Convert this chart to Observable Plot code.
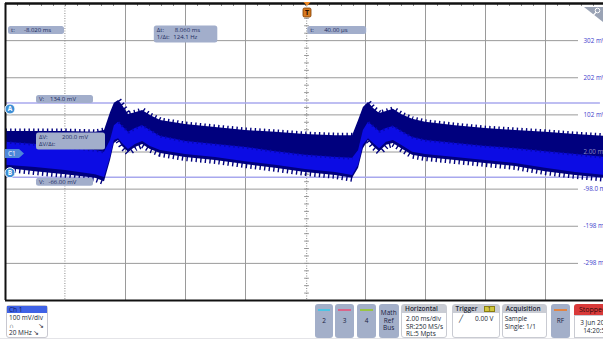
<!DOCTYPE html>
<html><head><meta charset="utf-8">
<script src="https://cdn.jsdelivr.net/npm/d3@7"></script>
<script src="https://cdn.jsdelivr.net/npm/@observablehq/plot@0.6"></script>
<style>
body{margin:0;background:#fff;font-family:"Open Sans","Noto Sans",sans-serif;}
#wrap{position:relative;width:603px;height:343px;overflow:hidden;background:#fff}
#chart{position:absolute;left:0;top:0}
#bar{position:absolute;left:0;top:303px;width:603px;height:40px;font-size:6.5px;color:#1a1f33}
#bar div{position:absolute;box-sizing:border-box}
.btn{top:1px;height:34px;background:#a3afc9;border-radius:3px;text-align:center;color:#1a2040}
.btn .ln{top:5px;left:3px;right:3px;height:1.5px}
.btn .lb{left:0;right:0;top:13px;line-height:7.5px}
.pan{top:1px;height:34px;border:1px solid #c9cbd2;border-radius:3px;background:#fff}
.pan .hd{left:0;right:0;top:0;height:8px;background:#c9ccd4;line-height:8px;padding-left:3px;font-weight:600}
.pan .bd{left:4px;right:2px;top:10px;line-height:7.5px}
</style></head>
<body><div id="wrap"><div id="chart"></div>
<div id="bar">
  <div style="left:6px;top:2px;width:42px;height:33px;border:1px solid #c8c8d0;border-radius:3px;background:#fff">
    <div style="left:0;right:0;top:0;height:7px;background:#3f62e6;line-height:7px;padding-left:2px;color:#0b1a6a">Ch 1</div>
    <div style="left:2px;right:3px;top:8px;line-height:7.5px">100 mV/div<br>∩<span style="float:right">↘</span><br>20 MHz ↘</div>
  </div>
  <div class="btn" style="left:315px;width:18px"><div class="ln" style="background:#4cc4e4"></div><div class="lb">2</div></div>
  <div class="btn" style="left:335px;width:19px"><div class="ln" style="background:#d9648a"></div><div class="lb">3</div></div>
  <div class="btn" style="left:357px;width:19px"><div class="ln" style="background:#98c444"></div><div class="lb">4</div></div>
  <div class="btn" style="left:379px;width:19.5px"><div class="lb" style="top:5px">Math<br>Ref<br>Bus</div></div>
  <div class="pan" style="left:401px;width:46px"><div class="hd">Horizontal</div><div class="bd">2.00 ms/div<br>SR:250 MS/s<br>RL:5 Mpts</div></div>
  <div class="pan" style="left:451.5px;width:48px"><div class="hd">Trigger</div>
    <div style="left:31px;top:1px;width:11.5px;height:6px;background:#d1c63c;border:1px solid #8a7e10;font-size:5.5px;line-height:4px;text-align:center">1</div>
    <div class="bd" style="left:6px;right:5px">╱<span style="float:right">0.00 V</span></div></div>
  <div class="pan" style="left:501.7px;width:45.6px"><div class="hd">Acquisition</div><div class="bd" style="left:2px">Sample<br>Single: 1/1</div></div>
  <div class="btn" style="left:550.7px;width:19.3px"><div class="ln" style="background:#e08444"></div><div class="lb">RF</div></div>
  <div style="left:574px;top:1px;width:44px;height:11px;background:#d93a3a;border-radius:3px 3px 0 0;line-height:11px;padding-left:5px;color:#2a0a0a;font-size:7px">Stopped</div>
  <div style="left:574px;top:12px;width:44px;height:23px;border:1px solid #c9cbd2;background:#fff;text-align:center;line-height:7.5px;padding-top:3px">3 Jun 2020<br>14:20:55</div>
  <div style="left:0;top:35px;width:603px;height:1px;background:#e4e4e8"></div>
</div>
</div>
<script>
// Waveform envelope (time in ms, voltage in mV)
const timeMs      = [-10,-9,-8,-7,-6.7,-6.5,-6.37,-6.23,-6.1,-5.9,-5.67,-5.43,-5.17,-4.83,-4,-3,-2,-1,0,1,1.57,1.77,1.93,2.1,2.27,2.47,2.7,2.93,3.2,3.57,4,5,6,7,8,9,10];
const upperMv     = [57,57,57,55,60,108,133,141,127,103,108,114,100,87,76,68,60,55,49,46,46,87,122,135,119,106,111,117,103,90,82,73,65,60,55,49,44];
const lowerMv     = [-42,-51,-59,-69,-78,-21,25,33,17,1,14,22,9,-2,-13,-21,-32,-42,-53,-61,-69,-42,11,33,17,3,20,25,11,-7,-13,-21,-29,-37,-51,-61,-69];
const coreUpperMv = [28,22,14,6,1,33,73,82,71,55,65,73,60,44,30,22,14,3,-7,-13,-15,6,60,82,71,57,65,71,57,41,33,25,17,11,3,-5,-13];
const coreLowerMv = [-34,-40,-48,-59,-67,-13,33,38,25,9,22,30,17,6,-5,-13,-24,-34,-45,-53,-61,-34,20,38,25,11,28,33,20,1,-5,-13,-21,-29,-42,-53,-61];
// the two fast rising edges (ms), where the ripple is not drawn
const edgeMs = [[-6.7, -6.23], [1.57, 2.1]];

// Graticule and labels
const gridMv = [302,202,102,2,-98,-198,-298];
const gridLabels = ["302 mV","202 mV","102 mV","2.00 mV","-98.0 mV","-198 mV","-298 mV"];
const gridMs = [-6,-4,-2,2,4,6,8];
const minorMs = d3.range(-10, 10.01, 0.4);
const minorMv = d3.range(-398, 402, 20);

// Cursors
const cursorT = [-8.02, 0.04];
const cursorV = [134, -66];
const cursorNames = ["A", "B"];
const readT1 = ["t:", "-8.020 ms"];
const readDT = [["Δt:", "8.060 ms"], ["1/Δt:", "124.1 Hz"]];
const readT2 = ["t:", "40.00 µs"];
const readVA = ["V:", "134.0 mV"];
const readDV = [["ΔV:", "200.0 mV"], ["ΔV/Δt:", ""]];
const readVB = ["V:", "-66.00 mV"];

const onEdge = t => edgeMs.some(([a, b]) => t > a && t < b);
const wave = timeMs.map((t, i) => ({t, hi: upperMv[i], lo: lowerMv[i], chi: coreUpperMv[i], clo: coreLowerMv[i]}));
const navy = "#00007e";
const gridIdx = d3.range(gridMv.length);
const teeth = {strokeDasharray: "1.4,3.2", strokeLinecap: "butt", strokeLinejoin: "miter", clip: true};

const chart = Plot.plot({
  width: 603, height: 303,
  marginLeft: 5, marginRight: 0, marginTop: 3, marginBottom: 3,
  style: {background: "transparent", fontFamily: "'Open Sans','Noto Sans',sans-serif", fontSize: "6.3px"},
  x: {domain: [-10, 10], range: [5, 605], axis: null},
  y: {domain: [-398, 402], axis: null},
  marks: [
    Plot.ruleY(gridMv, {x1: -10, x2: 9.1, stroke: "#9a9a9a", strokeWidth: 1}),
    Plot.ruleX(gridMs, {stroke: "#9a9a9a", strokeWidth: 1}),
    Plot.ruleX(minorMs, {y1: 402, y2: 394, stroke: "#888"}),
    Plot.ruleY(minorMv, {x1: -0.03, x2: 0.13, stroke: "#999"}),
    Plot.ruleX(cursorT, {stroke: "#8a8a8a", strokeDasharray: "1,1.5"}),
    Plot.ruleY(cursorV, {x1: -10, x2: 9.83, stroke: "#a8a8ee", strokeWidth: 1.5}),
    Plot.areaY(wave, {x: "t", y1: "lo", y2: "hi", fill: navy, clip: true}),
    Plot.line(wave, {x: "t", y: d => onEdge(d.t) ? NaN : d.hi, stroke: navy, strokeWidth: 6, ...teeth}),
    Plot.line(wave, {x: "t", y: d => onEdge(d.t) ? NaN : d.lo, stroke: navy, strokeWidth: 7, ...teeth}),
    Plot.areaY(wave, {x: "t", y1: "clo", y2: "chi", fill: "#0c0ce4", clip: true}),
    Plot.line(wave, {x: "t", y: d => onEdge(d.t) ? NaN : d.chi, stroke: "#0606b0", strokeWidth: 2.5, ...teeth}),
    Plot.ruleY([402], {stroke: "#111", strokeWidth: 2.5}),
    Plot.ruleY([-398], {stroke: "#111", strokeWidth: 2}),
    Plot.ruleX([-10], {stroke: "#111", strokeWidth: 2}),
    Plot.text(gridIdx.filter(i => gridMv[i] !== 2), {y: i => gridMv[i], text: i => gridLabels[i], frameAnchor: "right", dx: -20, textAnchor: "start", fill: "#3d3dcc"}),
    Plot.text(gridIdx.filter(i => gridMv[i] === 2), {y: i => gridMv[i], text: i => gridLabels[i], frameAnchor: "right", dx: -20, textAnchor: "start", fill: "#8a8ac0"})
  ]
});
document.getElementById("chart").appendChild(chart);

const X = chart.scale("x").apply, Y = chart.scale("y").apply;
const g = d3.select(chart).append("g").attr("text-anchor", "start")
  .attr("font-family", "'Open Sans','Noto Sans',sans-serif").attr("font-size", 6);
function box(x, y, w, h, rows, vx) {
  g.append("rect").attr("x", x).attr("y", y).attr("width", w).attr("height", h).attr("rx", 2.5).attr("fill", "#a2aecb");
  rows.forEach(([lab, val], i) => {
    g.append("text").attr("x", x + 3).attr("y", y + 6.2 + i * 7.6).attr("fill", "#1b2a5e").text(lab);
    if (val) g.append("text").attr("x", x + vx[i]).attr("y", y + 6.2 + i * 7.6).attr("fill", "#1b2a5e").text(val);
  });
}
const c1 = X(cursorT[0]), c2 = X(cursorT[1]);
const frameTop = Y(402);
box(c1 - 56.4, frameTop + 23, 56, 8, [readT1], [16]);
box((c1 + c2) / 2 - 31.5, frameTop + 22.5, 63.5, 17, readDT, [21, 19.5]);
box(c2 + 1, frameTop + 23, 59, 8, [readT2], [17]);
const yA = Y(cursorV[0]), yB = Y(cursorV[1]);
box(36, yA - 7.5, 57, 8, [readVA], [14]);
box(36, (yA + yB) / 2 - 7, 69, 17, readDV, [26]);
box(36, yB + 1, 57, 8, [readVB], [12.5]);

// cursor markers A / B
[[yA + 6.5, cursorNames[0]], [yB - 4, cursorNames[1]]].forEach(([cy, name]) => {
  g.append("circle").attr("cx", 10).attr("cy", cy).attr("r", 5).attr("fill", "#3d8fd6").attr("stroke", "#fff");
  g.append("text").attr("x", 10).attr("y", cy + 2.3).attr("text-anchor", "middle").attr("fill", "#fff")
    .attr("font-weight", "bold").attr("font-size", 6.5).text(name);
});
// channel tag C1
const yc = Y(2) + 2;
g.append("path").attr("d", `M5,${yc-4.5}H19L24,${yc}L19,${yc+4.5}H5Z`).attr("fill", "#4d86d8");
g.append("text").attr("x", 8).attr("y", yc + 2.3).attr("fill", "#fff").attr("font-size", 6.5).text("C1");
// trigger marker
const xt = X(0) + 2;
g.append("path").attr("d", `M${xt-3.5},2H${xt+3.5}L${xt},6Z`).attr("fill", "#f08a24");
g.append("rect").attr("x", xt - 4).attr("y", 8).attr("width", 8).attr("height", 9).attr("rx", 1.5)
  .attr("fill", "#d77a20").attr("stroke", "#7a3a00").attr("stroke-width", 0.8);
g.append("text").attr("x", xt).attr("y", 15).attr("text-anchor", "middle").attr("font-weight", "bold")
  .attr("font-size", 7).attr("fill", "#2a1000").text("T");
// zoom corner icon
g.append("path").attr("d", "M584,7H603V22Z").attr("fill", "#9aa3b5");
g.append("circle").attr("cx", 597.5).attr("cy", 10.5).attr("r", 2.3).attr("fill", "none").attr("stroke", "#fff").attr("stroke-width", 1);
g.append("line").attr("x1", 596).attr("y1", 12.3).attr("x2", 593.5).attr("y2", 15).attr("stroke", "#fff").attr("stroke-width", 1.2);
</script>
</body></html>
